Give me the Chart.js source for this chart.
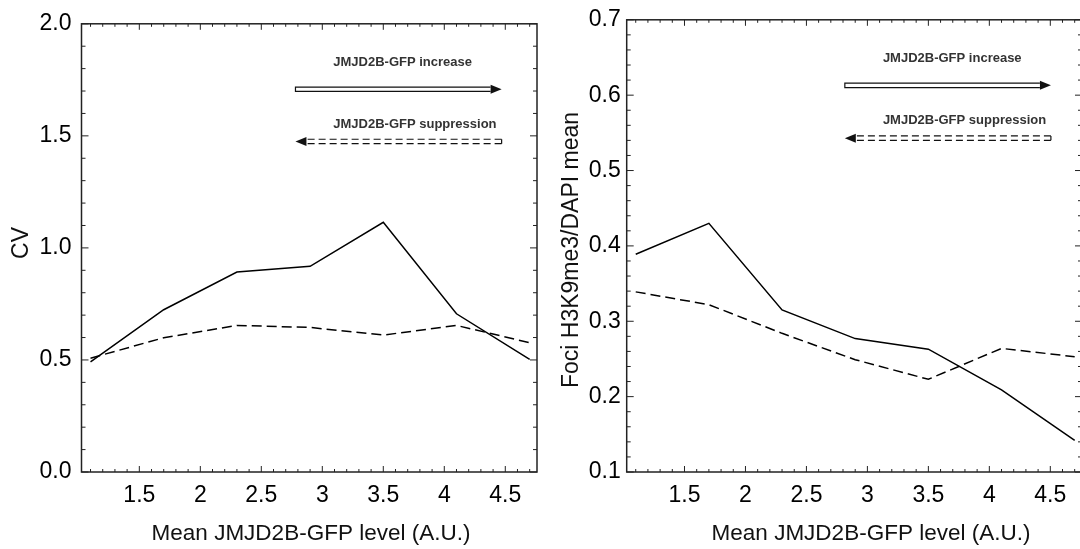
<!DOCTYPE html>
<html>
<head>
<meta charset="utf-8">
<script src="https://cdn.jsdelivr.net/npm/chart.js@4.4.1/dist/chart.umd.min.js"></script>
<style>
  html, body { margin: 0; padding: 0; background: #fff; overflow: hidden; }
  body { width: 1080px; height: 549px; position: relative; }
  .panel { position: absolute; top: 0; height: 549px; }
  #cvPanel { left: 0; width: 540px; }
  #fociPanel { left: 540px; width: 560px; }
</style>
</head>
<body>
<div class="panel" id="cvPanel"><canvas id="cvChart"></canvas></div>
<div class="panel" id="fociPanel"><canvas id="fociChart"></canvas></div>
<script>
// mean JMJD2B-GFP level of each bin (A.U.)
const gfpLevels = [1.1, 1.7, 2.3, 2.9, 3.5, 4.1, 4.7];

// coefficient of variation
const cvIncrease    = [0.491, 0.724, 0.892, 0.918, 1.114, 0.706, 0.503];
const cvSuppression = [0.508, 0.599, 0.654, 0.645, 0.611, 0.654, 0.577];

// foci H3K9me3 / DAPI mean
const fociIncrease    = [0.389, 0.430, 0.315, 0.277, 0.263, 0.209, 0.142];
const fociSuppression = [0.339, 0.322, 0.284, 0.249, 0.223, 0.264, 0.253];

// tick labels
const xTicks    = [1.5, 2, 2.5, 3, 3.5, 4, 4.5];
const cvTicks   = [0, 0.5, 1, 1.5, 2];
const fociTicks = [0.1, 0.2, 0.3, 0.4, 0.5, 0.6, 0.7];

const FONT = "'Liberation Sans', Arial, sans-serif";
const CANVAS_H = 549;
const PLOT_TOP = 15;
const PLOT_BOTTOM = 472;

function line(ctx, x0, y0, x1, y1) {
  ctx.beginPath();
  ctx.moveTo(x0, y0);
  ctx.lineTo(x1, y1);
  ctx.stroke();
}

// double-line shaft with a solid head pointing right
function hollowArrow(ctx, x0, x1, y) {
  const h = 2.2, head = 11, hw = 4.5;
  ctx.lineWidth = 1.2;
  ctx.beginPath();
  ctx.moveTo(x1 - head, y - h);
  ctx.lineTo(x0, y - h);
  ctx.lineTo(x0, y + h);
  ctx.lineTo(x1 - head, y + h);
  ctx.stroke();
  ctx.beginPath();
  ctx.moveTo(x1, y);
  ctx.lineTo(x1 - head, y - hw);
  ctx.lineTo(x1 - head, y + hw);
  ctx.closePath();
  ctx.fill();
}

// dashed double-line shaft, head at the left end
function dashedArrow(ctx, x0, x1, y) {
  const h = 2.2, head = 11, hw = 4.5;
  ctx.lineWidth = 1.2;
  ctx.setLineDash([7, 4]);
  line(ctx, x1, y - h, x0 + head, y - h);
  line(ctx, x1, y + h, x0 + head, y + h);
  ctx.setLineDash([]);
  line(ctx, x1, y - h, x1, y + h);
  ctx.beginPath();
  ctx.moveTo(x0, y);
  ctx.lineTo(x0 + head, y - hw);
  ctx.lineTo(x0 + head, y + hw);
  ctx.closePath();
  ctx.fill();
}

// box frame with inward ticks, axis titles and the direction arrows
const framePlugin = {
  id: 'frame',
  afterDatasetsDraw(chart, args, opts) {
    const { ctx, chartArea: a, scales: { x, y } } = chart;
    ctx.save();
    ctx.strokeStyle = '#222';

    // ticks along top and bottom, every 0.1
    ctx.lineWidth = 1;
    for (let i = Math.ceil(x.min * 10); i <= Math.floor(x.max * 10); i++) {
      const px = x.getPixelForValue(i / 10);
      const len = i % 5 === 0 ? 6 : 3;
      line(ctx, px, a.bottom, px, a.bottom - len);
      line(ctx, px, a.top, px, a.top + len);
    }
    // ticks along left and right
    const n = Math.round((y.max - y.min) / opts.yMinor);
    for (let k = 0; k <= n; k++) {
      const py = y.getPixelForValue(y.min + k * opts.yMinor);
      const len = k % 5 === 0 ? 7 : 4;
      line(ctx, a.left, py, a.left + len, py);
      line(ctx, a.right, py, a.right - len, py);
    }

    ctx.lineWidth = 1.5;
    ctx.strokeRect(a.left, a.top, a.right - a.left, a.bottom - a.top);

    // axis titles
    ctx.fillStyle = '#111';
    ctx.textAlign = 'center';
    ctx.textBaseline = 'alphabetic';
    ctx.font = '22.5px ' + FONT;
    ctx.fillText(opts.xTitle, opts.xTitleX, 540);
    ctx.save();
    ctx.font = '23px ' + FONT;
    ctx.translate(opts.yTitleX, opts.yTitleY);
    ctx.rotate(-Math.PI / 2);
    ctx.fillText(opts.yTitle, 0, 0);
    ctx.restore();

    // direction arrows
    const nt = opts.notes;
    ctx.fillStyle = '#333';
    ctx.font = 'bold 13px ' + FONT;
    ctx.textAlign = 'left';
    ctx.textBaseline = 'middle';
    const tx = x.getPixelForValue(nt.textX);
    ctx.fillText('JMJD2B-GFP increase', tx, y.getPixelForValue(nt.upText));
    ctx.fillText('JMJD2B-GFP suppression', tx, y.getPixelForValue(nt.downText));
    ctx.strokeStyle = '#111';
    ctx.fillStyle = '#111';
    hollowArrow(ctx, x.getPixelForValue(nt.from), x.getPixelForValue(nt.to), y.getPixelForValue(nt.upArrow));
    dashedArrow(ctx, x.getPixelForValue(nt.from), x.getPixelForValue(nt.to), y.getPixelForValue(nt.downArrow));
    ctx.restore();
  }
};

function makeChart(id, cfg) {
  const series = (label, values, dash) => ({
    label,
    data: gfpLevels.map((g, i) => ({ x: g, y: values[i] })),
    borderColor: '#000',
    borderWidth: 1.5,
    borderDash: dash,
    pointRadius: 0,
    tension: 0,
    fill: false
  });
  return new Chart(document.getElementById(id), {
    type: 'line',
    data: {
      datasets: [
        series('JMJD2B-GFP increase', cfg.increase, []),
        series('JMJD2B-GFP suppression', cfg.suppression, [10, 5])
      ]
    },
    options: {
      responsive: true,
      maintainAspectRatio: false,
      animation: false,
      layout: { padding: { top: PLOT_TOP, right: cfg.rightPad, left: 0, bottom: 0 } },
      plugins: {
        legend: { display: false },
        tooltip: { enabled: false },
        frame: {
          yMinor: cfg.yMinor,
          xTitle: 'Mean JMJD2B-GFP level (A.U.)',
          xTitleX: cfg.xTitleX,
          yTitle: cfg.yTitle,
          yTitleX: cfg.yTitleX,
          yTitleY: cfg.yTitleY,
          notes: cfg.notes
        }
      },
      scales: {
        x: {
          type: 'linear',
          min: 1.026,
          max: 4.76,
          grid: { display: false, drawTicks: false },
          border: { display: false },
          afterBuildTicks: s => { s.ticks = xTicks.map(v => ({ value: v })); },
          afterFit: s => { s.height = CANVAS_H - PLOT_BOTTOM; },
          ticks: {
            autoSkip: false,
            maxRotation: 0,
            padding: 10,
            color: '#000',
            font: { family: FONT, size: 23 },
            callback: v => String(v)
          }
        },
        y: {
          min: cfg.yTicks[0],
          max: cfg.yTicks[cfg.yTicks.length - 1],
          grid: { display: false, drawTicks: false },
          border: { display: false },
          afterBuildTicks: s => { s.ticks = cfg.yTicks.map(v => ({ value: v })); },
          afterFit: s => { s.width = cfg.axisLeft; },
          ticks: {
            padding: cfg.yPad,
            color: '#000',
            font: { family: FONT, size: 23 },
            callback: v => v.toFixed(1)
          }
        }
      }
    },
    plugins: [framePlugin]
  });
}

makeChart('cvChart', {
  increase: cvIncrease,
  suppression: cvSuppression,
  yTicks: cvTicks,
  yMinor: 0.1,
  yPad: 10,
  axisLeft: 81.5,
  rightPad: 3,
  yTitle: 'CV',
  yTitleX: 28,
  yTitleY: 243,
  xTitleX: 311,
  notes: { textX: 3.09, upText: 1.829, downText: 1.552, upArrow: 1.708, downArrow: 1.475, from: 2.78, to: 4.47 }
});

makeChart('fociChart', {
  increase: fociIncrease,
  suppression: fociSuppression,
  yTicks: fociTicks,
  yMinor: 0.02,
  yPad: 6,
  axisLeft: 86.7,
  rightPad: 18,
  yTitle: 'Foci H3K9me3/DAPI mean',
  yTitleX: 38,
  yTitleY: 250,
  xTitleX: 331,
  notes: { textX: 3.127, upText: 0.649, downText: 0.566, upArrow: 0.613, downArrow: 0.543, from: 2.815, to: 4.505 }
});
</script>
</body>
</html>
